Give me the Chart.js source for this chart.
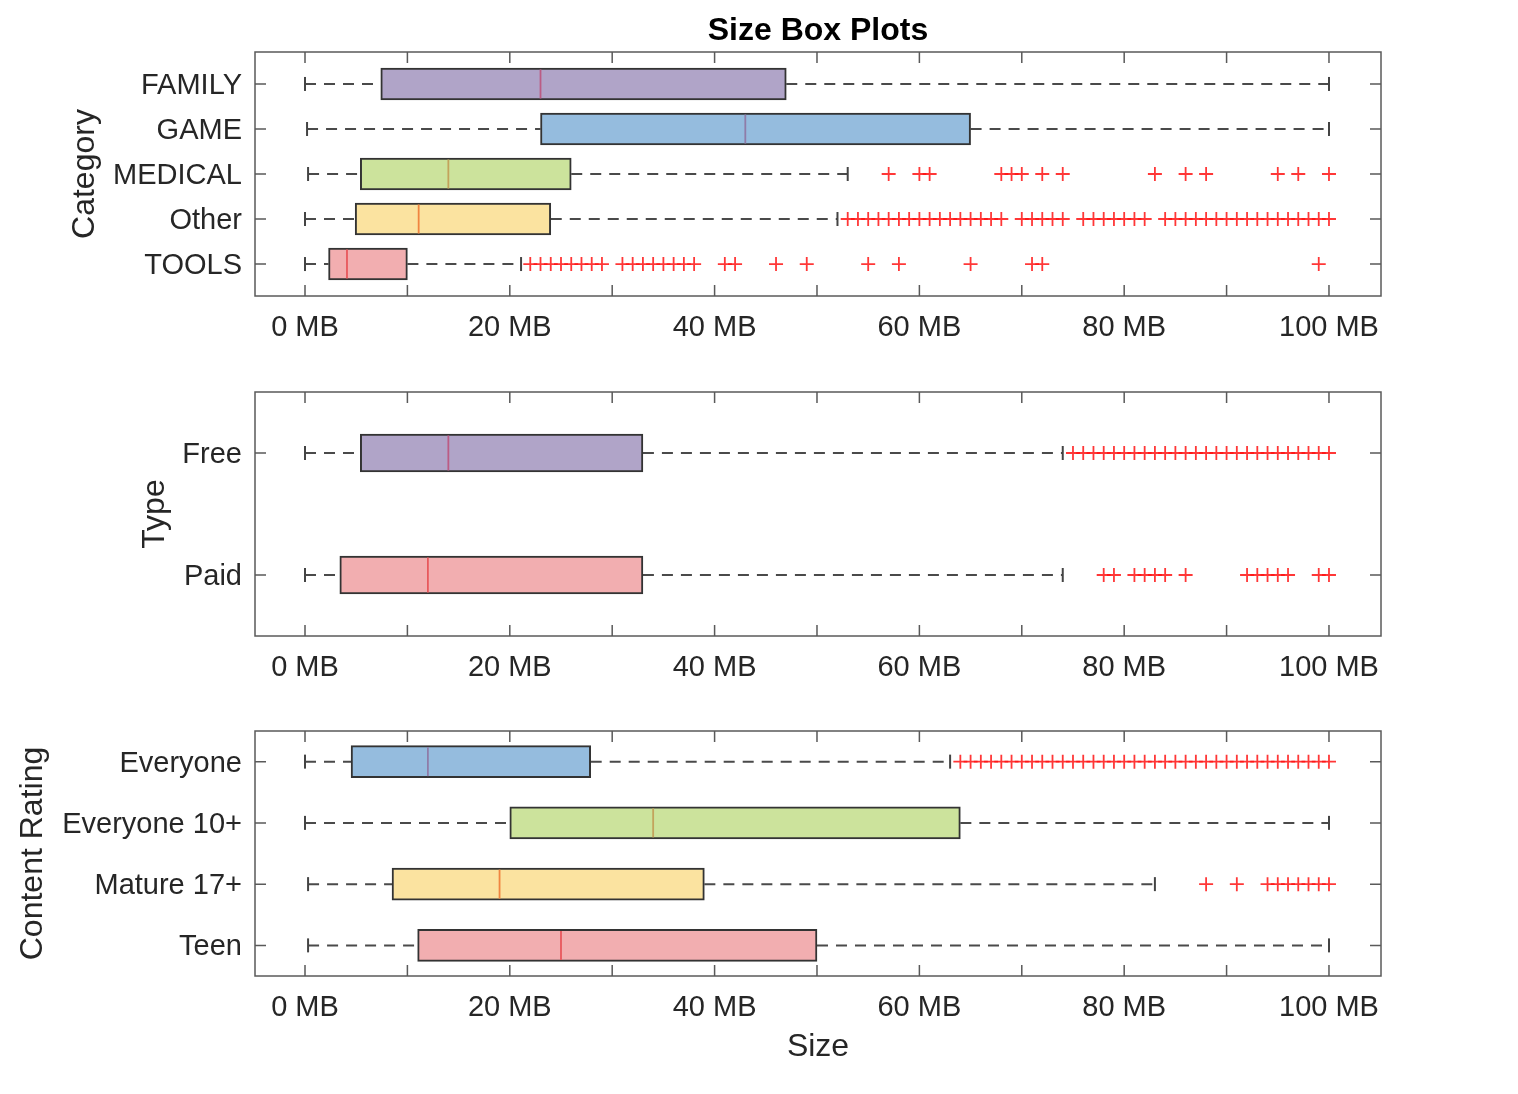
<!DOCTYPE html>
<html><head><meta charset="utf-8">
<script src="https://cdn.jsdelivr.net/npm/chart.js@4.4.1/dist/chart.umd.min.js"></script>
<style>
html,body{margin:0;padding:0;background:#fff;width:1518px;height:1094px;overflow:hidden;}
canvas{position:absolute;left:0;}
</style></head><body>
<canvas id="c1" width="1518" height="356" style="top:0px"></canvas>
<canvas id="c2" width="1518" height="340" style="top:356px"></canvas>
<canvas id="c3" width="1518" height="398" style="top:696px"></canvas>
<script>
// ---- tick labels ----
const sizeTicks = [0, 10, 20, 30, 40, 50, 60, 70, 80, 90, 100];
const sizeTickLabels = ['0 MB', '', '20 MB', '', '40 MB', '', '60 MB', '', '80 MB', '', '100 MB'];

// ---- Category ----
const categoryNames = ['FAMILY', 'GAME', 'MEDICAL', 'Other', 'TOOLS'];
const categoryLow = [0, 0.2, 0.3, 0, 0];
const categoryQ1 = [7.4, 23, 5.4, 4.9, 2.3];
const categoryMedian = [23, 43, 14, 11.1, 4.1];
const categoryQ3 = [47, 65, 26, 24, 10];
const categoryHigh = [100, 100, 53, 52, 21.1];
const categoryOutliers = [
  [],
  [],
  [57, 60, 61, 68, 69, 70, 72, 74, 83, 86, 88, 95, 97, 100],
  [53, 54, 55, 56, 57, 58, 59, 60, 61, 62, 63, 64, 65, 66, 67, 68,
   70, 71, 72, 73, 74,
   76, 77, 78, 79, 80, 81, 82,
   84, 85, 86, 87, 88, 89, 90, 91, 92, 93, 94, 95, 96, 97, 98, 99, 100],
  [22, 23, 24, 25, 26, 27, 28, 29, 31, 32, 33, 34, 35, 36, 37, 38,
   41, 42, 46, 49, 55, 58, 65, 71, 72, 99]
];

// ---- Type ----
const typeNames = ['Free', 'Paid'];
const typeLow = [0, 0];
const typeQ1 = [5.4, 3.4];
const typeMedian = [14, 12];
const typeQ3 = [33, 33];
const typeHigh = [74, 74];
const typeOutliers = [
  [75, 76, 77, 78, 79, 80, 81, 82, 83, 84, 85, 86, 87, 88, 89, 90, 91, 92, 93, 94, 95, 96, 97, 98, 99, 100],
  [78, 79, 81, 82, 83, 84, 86, 92, 93, 94, 95, 96, 99, 100]
];

// ---- Content Rating ----
const ratingNames = ['Everyone', 'Everyone 10+', 'Mature 17+', 'Teen'];
const ratingLow = [0, 0, 0.3, 0.3];
const ratingQ1 = [4.5, 20, 8.5, 11];
const ratingMedian = [12, 34, 19, 25];
const ratingQ3 = [27.9, 64, 39, 50];
const ratingHigh = [63, 100, 83, 100];
const ratingOutliers = [
  [64, 65, 66, 67, 68, 69, 70, 71, 72, 73, 74, 75, 76, 77, 78, 79, 80, 81, 82,
   83, 84, 85, 86, 87, 88, 89, 90, 91, 92, 93, 94, 95, 96, 97, 98, 99, 100],
  [],
  [88, 91, 94, 95, 96, 97, 98, 99, 100],
  []
];

// ---- styles ----
const PURPLE = '#b0a4c8', BLUE = '#95bcde', GREEN = '#cce39c', YELLOW = '#fbe3a0', PINK = '#f2aeb0';
const categoryFill = [PURPLE, BLUE, GREEN, YELLOW, PINK];
const categoryMedColor = ['#bb5c84', '#8f7ca8', '#c3a35c', '#f08540', '#e8585c'];
const typeFill = [PURPLE, PINK];
const typeMedColor = ['#bb5c84', '#e8585c'];
const ratingFill = [BLUE, GREEN, YELLOW, PINK];
const ratingMedColor = ['#8f7ca8', '#c3a35c', '#f08540', '#e8585c'];

Chart.defaults.font.family = "'Liberation Sans', Arial, Helvetica, sans-serif";
Chart.defaults.color = '#262626';
Chart.defaults.animation = false;

const framePlugin = {
  id: 'frame',
  afterDatasetsDraw(chart) {
    const {ctx, chartArea: {left, right, top, bottom}, scales: {x, y}} = chart;
    ctx.save();
    ctx.strokeStyle = '#5a5a5a';
    ctx.lineWidth = 1.5;
    ctx.strokeRect(left, top, right - left, bottom - top);
    ctx.beginPath();
    x.ticks.forEach(t => {
      const px = x.getPixelForValue(t.value);
      ctx.moveTo(px, bottom); ctx.lineTo(px, bottom - 11);
      ctx.moveTo(px, top); ctx.lineTo(px, top + 11);
    });
    y.ticks.forEach(t => {
      const py = y.getPixelForValue(t.value);
      ctx.moveTo(left, py); ctx.lineTo(left + 11, py);
      ctx.moveTo(right, py); ctx.lineTo(right - 11, py);
    });
    ctx.stroke();
    ctx.restore();
  }
};

function makeBoxChart(id, d, o) {
  const datasets = [];
  datasets.push({
    type: 'bar', indexAxis: 'y', order: 5,
    data: d.names.map((_, i) => ({x: [d.q1[i], d.q3[i]], y: i + 1})),
    backgroundColor: d.fill, borderColor: '#333333', borderWidth: 2,
    borderSkipped: false, barThickness: o.box
  });
  d.names.forEach((_, i) => {
    const dash = {type: 'line', order: 6, borderColor: '#4a4a4a', borderWidth: 2,
      borderDash: [11, 8], pointRadius: 0, fill: false, tension: 0};
    datasets.push(Object.assign({data: [{x: d.low[i], y: i + 1}, {x: d.q1[i], y: i + 1}]}, dash));
    datasets.push(Object.assign({data: [{x: d.q3[i], y: i + 1}, {x: d.high[i], y: i + 1}]}, dash));
  });
  datasets.push({
    type: 'scatter', order: 3,
    data: d.names.flatMap((_, i) => [{x: d.low[i], y: i + 1}, {x: d.high[i], y: i + 1}]),
    pointStyle: 'line', pointRotation: 90, pointRadius: 7, pointHoverRadius: 7,
    pointBorderColor: '#444444', pointBorderWidth: 2
  });
  datasets.push({
    type: 'scatter', order: 2,
    data: d.names.map((_, i) => ({x: d.med[i], y: i + 1})),
    pointStyle: 'line', pointRotation: 90, pointRadius: o.box / 2 - 1.5, pointHoverRadius: o.box / 2 - 1.5,
    pointBorderColor: d.medColor, pointBorderWidth: 1.8
  });
  datasets.push({
    type: 'scatter', order: 1,
    data: d.outliers.flatMap((arr, i) => arr.map(v => ({x: v, y: i + 1}))),
    pointStyle: 'cross', pointRadius: 7, pointHoverRadius: 7,
    pointBorderColor: 'rgba(255,20,20,0.85)', pointBorderWidth: 1.8
  });

  const cfg = {
    type: 'bar',
    data: {datasets},
    plugins: [framePlugin],
    options: {
      responsive: false, animation: false, events: [],
      layout: {padding: {left: 0, right: 137, top: o.padTop, bottom: 0}},
      plugins: {
        legend: {display: false}, tooltip: {enabled: false},
        title: o.title ? {display: true, text: o.title, fullSize: false,
          font: {size: 32, weight: 'bold'}, color: '#000', padding: {top: 12, bottom: 1.6}} : {display: false}
      },
      scales: {
        x: {
          type: 'linear', position: 'bottom', min: -4.883, max: 105.08, offset: false,
          grid: {display: false, drawTicks: false}, border: {display: false},
          afterBuildTicks: s => { s.ticks = sizeTicks.map(v => ({value: v})); },
          afterFit: s => { s.height = o.xh; },
          ticks: {autoSkip: false, maxRotation: 0, minRotation: 0, padding: 15,
            font: {size: 29}, color: '#262626',
            callback: (v) => sizeTickLabels[sizeTicks.indexOf(v)]},
          title: o.xTitle ? {display: true, text: o.xTitle, font: {size: 32}, color: '#262626',
            padding: {top: 0, bottom: 28}} : {display: false}
        },
        y: {
          type: 'linear', position: 'left', min: o.ymin, max: o.ymax, reverse: true, offset: false,
          grid: {display: false, drawTicks: false}, border: {display: false},
          afterBuildTicks: s => { s.ticks = d.names.map((_, i) => ({value: i + 1})); },
          afterFit: s => { s.width = 255; },
          ticks: {autoSkip: false, padding: 13, labelOffset: 2, font: {size: 29}, color: '#262626',
            callback: v => d.names[v - 1]},
          title: {display: true, text: o.yTitle, font: {size: 32}, color: '#262626',
            padding: {top: o.yTitlePad, bottom: 0}}
        }
      }
    }
  };
  return new Chart(document.getElementById(id), cfg);
}

makeBoxChart('c1', {
  names: categoryNames, low: categoryLow, q1: categoryQ1, med: categoryMedian, q3: categoryQ3,
  high: categoryHigh, outliers: categoryOutliers, fill: categoryFill, medColor: categoryMedColor
}, {box: 32, padTop: 0, xh: 60, ymin: 0.29, ymax: 5.71, yTitle: 'Category', yTitlePad: 66, title: 'Size Box Plots'});

makeBoxChart('c2', {
  names: typeNames, low: typeLow, q1: typeQ1, med: typeMedian, q3: typeQ3,
  high: typeHigh, outliers: typeOutliers, fill: typeFill, medColor: typeMedColor
}, {box: 38, padTop: 36, xh: 60, ymin: 0.5, ymax: 2.5, yTitle: 'Type', yTitlePad: 136});

makeBoxChart('c3', {
  names: ratingNames, low: ratingLow, q1: ratingQ1, med: ratingMedian, q3: ratingQ3,
  high: ratingHigh, outliers: ratingOutliers, fill: ratingFill, medColor: ratingMedColor
}, {box: 32, padTop: 35, xh: 118, ymin: 0.5, ymax: 4.5, yTitle: 'Content Rating', yTitlePad: 14, xTitle: 'Size'});
</script>
</body></html>
